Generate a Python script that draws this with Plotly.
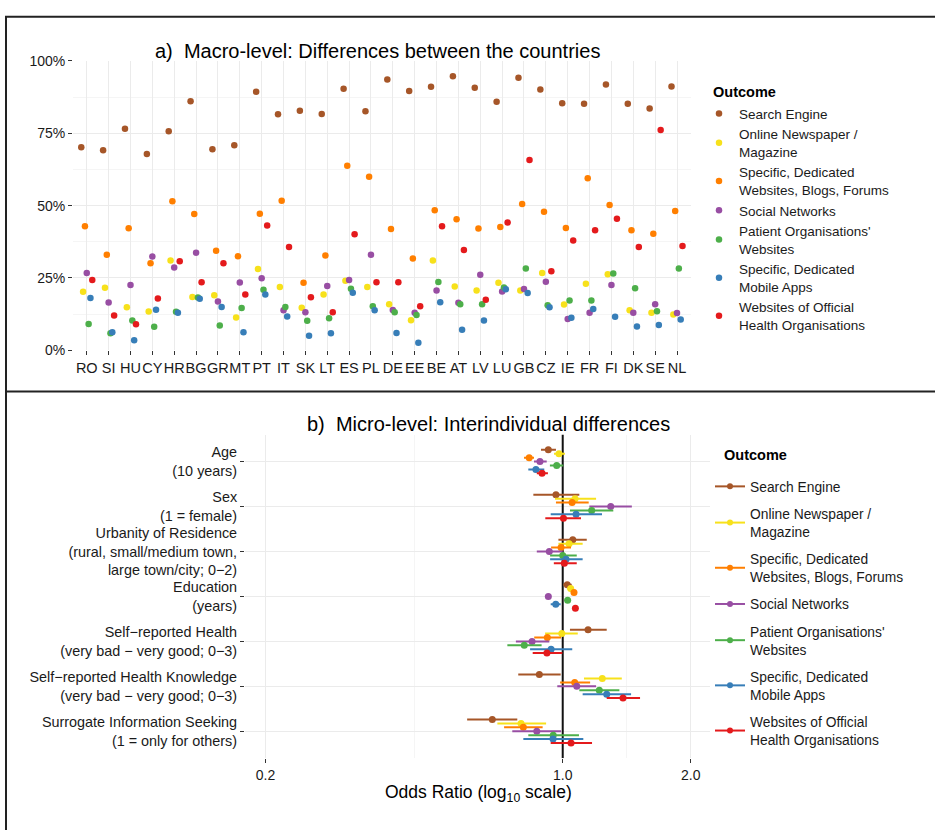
import numpy as np
import plotly.graph_objects as go

# ---------------- data ----------------
countries = ["RO", "SI", "HU", "CY", "HR", "BG", "GR", "MT", "PT", "IT", "SK", "LT", "ES", "PL",
             "DE", "EE", "BE", "AT", "LV", "LU", "GB", "CZ", "IE", "FR", "FI", "DK", "SE", "NL"]

outcomes = ["Search Engine",
            "Online Newspaper /<br>Magazine",
            "Specific, Dedicated<br>Websites, Blogs, Forums",
            "Social Networks",
            "Patient Organisations'<br>Websites",
            "Specific, Dedicated<br>Mobile Apps",
            "Websites of Official<br>Health Organisations"]

colors = ["#A65628", "#F7E11B", "#FF7F00", "#984EA3", "#4DAF4A", "#377EB8", "#E41A1C"]

# shares (%) per country
search_engine = [70.2, 69.1, 76.6, 67.8, 75.7, 86.1, 69.5, 70.9, 89.4, 81.6, 82.8, 81.7, 90.4, 82.6,
                 93.6, 89.6, 91.1, 94.7, 90.7, 85.9, 94.2, 90.1, 85.4, 85.2, 91.9, 85.2, 83.6, 91.2]
online_newspaper = [20.2, 21.6, 14.9, 13.4, 31.0, 18.4, 19.0, 11.3, 28.1, 21.9, 14.7, 19.3, 24.0, 21.9,
                    15.9, 10.4, 31.0, 22.0, 20.7, 23.3, 20.7, 26.7, 15.8, 23.0, 26.3, 13.8, 13.0, 12.4]
dedicated_websites = [42.9, 33.0, 42.2, 30.1, 51.5, 47.1, 34.4, 32.5, 47.2, 51.7, 23.3, 32.8, 63.8, 60.0,
                      41.9, 31.7, 48.4, 45.3, 42.1, 42.6, 50.6, 47.9, 42.3, 59.5, 50.2, 41.5, 40.3, 48.1]
social_networks = [26.7, 16.5, 22.6, 32.4, 28.6, 33.7, 16.9, 23.4, 24.9, 13.8, 13.1, 22.2, 24.3, 33.0,
                   13.9, 13.0, 20.7, 16.4, 26.1, 20.3, 21.2, 23.7, 10.8, 13.0, 22.6, 13.0, 15.9, 12.9]
patient_orgs = [9.1, 5.9, 10.3, 8.1, 13.3, 18.2, 8.6, 14.6, 20.9, 15.0, 10.2, 11.1, 21.3, 15.2,
                13.1, 12.2, 23.6, 15.9, 15.9, 21.7, 28.3, 15.6, 17.2, 17.2, 26.5, 21.4, 13.5, 28.3]
mobile_apps = [18.1, 6.2, 3.5, 14.0, 13.0, 17.8, 15.0, 6.2, 19.3, 11.7, 5.0, 5.9, 19.9, 13.8,
               6.0, 2.6, 16.6, 7.1, 10.3, 21.1, 19.8, 14.9, 11.2, 14.3, 11.6, 8.2, 8.7, 10.6]
official_sites = [24.3, 12.0, 9.0, 17.9, 30.8, 23.5, 30.1, 19.3, 43.1, 35.7, 18.3, 13.1, 40.1, 23.5,
                  23.5, 15.2, 42.9, 34.7, 17.5, 44.2, 65.8, 27.3, 37.9, 41.5, 45.5, 35.7, 76.1, 36.0]
macro_values = [search_engine, online_newspaper, dedicated_websites, social_networks,
                patient_orgs, mobile_apps, official_sites]

pct_ticks = [0, 25, 50, 75, 100]

predictors = ["Age<br>(10 years)",
              "Sex<br>(1 = female)",
              "Urbanity of Residence<br>(rural, small/medium town,<br>large town/city; 0\u22122)",
              "Education<br>(years)",
              "Self\u2212reported Health<br>(very bad \u2212 very good; 0\u22123)",
              "Self\u2212reported Health Knowledge<br>(very bad \u2212 very good; 0\u22123)",
              "Surrogate Information Seeking<br>(1 = only for others)"]

# odds ratios: estimate, lower, upper (per predictor) for each outcome
or_est = [
    [0.925, 0.964, 1.056, 1.025, 1.147, 0.881, 0.683],
    [0.980, 1.069, 1.035, 1.044, 0.995, 1.239, 0.798],
    [0.834, 1.052, 0.991, 1.063, 0.920, 1.067, 0.808],
    [0.884, 1.297, 0.930, 0.925, 0.847, 1.079, 0.869],
    [0.968, 1.170, 1.000, 1.027, 0.812, 1.219, 0.950],
    [0.865, 1.075, 1.018, 0.963, 0.939, 1.269, 0.949],
    [0.894, 1.004, 1.009, 1.071, 0.918, 1.386, 1.046],
]
or_lo = [
    [0.889, 0.853, 0.977, 1.003, 1.040, 0.786, 0.596],
    [0.954, 0.959, 0.977, 1.025, 0.909, 1.122, 0.702],
    [0.811, 0.964, 0.939, 1.050, 0.857, 0.986, 0.728],
    [0.856, 1.155, 0.869, 0.912, 0.776, 0.971, 0.761],
    [0.933, 1.040, 0.934, 1.010, 0.741, 1.094, 0.830],
    [0.830, 0.937, 0.934, 0.937, 0.838, 1.114, 0.808],
    [0.869, 0.910, 0.953, 1.056, 0.850, 1.269, 0.937],
]
or_hi = [
    [0.964, 1.094, 1.139, 1.050, 1.269, 0.989, 0.782],
    [1.012, 1.198, 1.114, 1.060, 1.085, 1.377, 0.914],
    [0.856, 1.151, 1.046, 1.079, 0.991, 1.160, 0.897],
    [0.917, 1.454, 1.000, 0.939, 0.930, 1.198, 0.991],
    [1.003, 1.315, 1.079, 1.046, 0.892, 1.359, 1.092],
    [0.905, 1.237, 1.114, 0.989, 1.053, 1.448, 1.118],
    [0.923, 1.104, 1.079, 1.086, 0.998, 1.520, 1.172],
]
or_ticks = [0.2, 1.0, 2.0]
or_ticklabels = ["0.2", "1.0", "2.0"]
or_reference = 1.0

# ---------------- figure ----------------
W, H = 935, 830
FONT = "Liberation Sans, Arial, Helvetica, sans-serif"
TXT = "#1a1a1a"
GRID = "#EBEBEB"
GRID_MINOR = "#F5F5F5"

def fx(p):
    return p / W

def fy(p):
    return 1 - p / H

n_out = len(outcomes)
dodge_top = 0.084
dodge_bot = 0.087

fig = go.Figure()

# top panel: points
cx = np.arange(len(countries))
for k in range(n_out):
    fig.add_trace(go.Scatter(
        x=cx + (k - (n_out - 1) / 2) * dodge_top,
        y=macro_values[k],
        mode="markers",
        marker=dict(color=colors[k], size=6.5),
        name=outcomes[k],
        legend="legend",
        legendgroup="a%d" % k,
        xaxis="x", yaxis="y",
        cliponaxis=False,
        hoverinfo="skip",
    ))

# bottom panel: reference line at OR = 1
py = np.arange(len(predictors))
fig.add_trace(go.Scatter(
    x=[or_reference, or_reference], y=[-0.6, len(predictors) - 0.4],
    mode="lines", line=dict(color="#111111", width=2),
    showlegend=False, xaxis="x2", yaxis="y2", hoverinfo="skip"))

for k in range(n_out):
    est = np.array(or_est[k])
    lo = np.array(or_lo[k])
    hi = np.array(or_hi[k])
    fig.add_trace(go.Scatter(
        x=est,
        y=py + (k - (n_out - 1) / 2) * dodge_bot,
        mode="markers",
        marker=dict(color=colors[k], size=7),
        error_x=dict(type="data", symmetric=False, array=hi - est, arrayminus=est - lo,
                     color=colors[k], thickness=2, width=0),
        showlegend=False,
        xaxis="x2", yaxis="y2",
        hoverinfo="skip",
    ))
    # legend entry (line + point key)
    fig.add_trace(go.Scatter(
        x=[None], y=[None], mode="lines+markers",
        line=dict(color=colors[k], width=2),
        marker=dict(color=colors[k], size=6),
        name=outcomes[k], legend="legend2", legendgroup="b%d" % k,
        xaxis="x2", yaxis="y2",
    ))

axis_common = dict(showline=False, zeroline=False, ticks="outside", ticklen=4,
                   tickwidth=1.3, tickcolor="#333333", gridwidth=1)

fig.update_layout(
    width=W, height=H,
    margin=dict(l=0, r=0, t=0, b=0),
    paper_bgcolor="white", plot_bgcolor="white",
    font=dict(family=FONT, color=TXT, size=14),
    xaxis=dict(domain=[fx(73), fx(691)], anchor="y", range=[-0.63, len(countries) - 1 + 0.64],
               tickvals=list(cx), ticktext=countries, showgrid=True, gridcolor=GRID,
               tickangle=0, tickfont=dict(size=14.5, color=TXT), **axis_common),
    yaxis=dict(domain=[fy(349), fy(54)], anchor="x", range=[0, 100],
               tickvals=pct_ticks, ticktext=["%d%%" % v for v in pct_ticks],
               showgrid=True, gridcolor=GRID,
               minor=dict(tickvals=[12.5, 37.5, 62.5, 87.5], showgrid=True, gridcolor=GRID_MINOR,
                          ticklen=0),
               tickfont=dict(size=14, color=TXT), **axis_common),
    xaxis2=dict(domain=[fx(245), fx(710)], anchor="y2", type="log",
                range=[np.log10(0.179), np.log10(2.22)],
                tickvals=or_ticks, ticktext=or_ticklabels, showgrid=True, gridcolor=GRID,
                minor=dict(tickvals=[0.4472, 1.4142], showgrid=True, gridcolor=GRID_MINOR, ticklen=0),
                tickangle=0, tickfont=dict(size=14, color=TXT), **axis_common),
    yaxis2=dict(domain=[fy(765), fy(435)], anchor="x2", range=[len(predictors) - 0.4, -0.6],
                tickvals=list(py), ticktext=predictors, showgrid=True, gridcolor=GRID,
                tickfont=dict(size=14.4, color=TXT), **axis_common),
    legend=dict(x=fx(699), xanchor="left", y=fy(92), yanchor="top",
                font=dict(size=13.5, color=TXT), tracegroupgap=0, bgcolor="rgba(0,0,0,0)"),
    legend2=dict(x=fx(710), xanchor="left", y=fy(472), yanchor="top",
                 font=dict(size=13.8, color=TXT), tracegroupgap=6.3, bgcolor="rgba(0,0,0,0)"),
    showlegend=True,
)

fig.add_annotation(text="a)  Macro-level: Differences between the countries", xref="paper", yref="paper",
                   x=fx(377), y=fy(44), showarrow=False, font=dict(size=20, color="#000"),
                   xanchor="center", yanchor="middle")
fig.add_annotation(text="b)  Micro-level: Interindividual differences", xref="paper", yref="paper",
                   x=fx(488), y=fy(424), showarrow=False, font=dict(size=20, color="#000"),
                   xanchor="center", yanchor="middle")
fig.add_annotation(text="Odds Ratio (log<sub>10</sub> scale)", xref="paper", yref="paper",
                   x=fx(478), y=fy(801), showarrow=False, font=dict(size=17.5, color="#000"),
                   xanchor="center", yanchor="middle")
fig.add_annotation(text="<b>Outcome</b>", xref="paper", yref="paper",
                   x=fx(711), y=fy(86), showarrow=False, font=dict(size=14.5, color="#000"),
                   xanchor="left", yanchor="middle")
fig.add_annotation(text="<b>Outcome</b>", xref="paper", yref="paper",
                   x=fx(722), y=fy(456), showarrow=False, font=dict(size=14.5, color="#000"),
                   xanchor="left", yanchor="middle")

# frame and separator
fig.add_shape(type="rect", xref="paper", yref="paper", x0=fx(6), x1=fx(945), y0=fy(9), y1=fy(845),
              line=dict(color="#222222", width=2), fillcolor="rgba(0,0,0,0)", layer="above")
fig.add_shape(type="line", xref="paper", yref="paper", x0=fx(6), x1=fx(945), y0=fy(391), y1=fy(391),
              line=dict(color="#222222", width=2), layer="above")

fig.write_html("out.html")
